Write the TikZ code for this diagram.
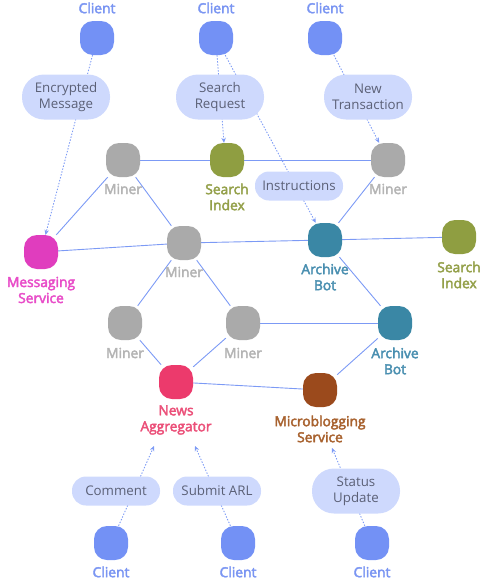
\documentclass[tikz,border=0pt]{standalone}
\usepackage{fontspec}
\setmainfont{Open Sans}
\newfontfamily\labfont{Open Sans}[FakeBold=3]
\usetikzlibrary{arrows.meta}
\definecolor{clientc}{HTML}{7391F5}
\definecolor{clientt}{HTML}{7A95F2}
\definecolor{pillc}{HTML}{CED9FD}
\definecolor{pillt}{HTML}{5B6076}
\definecolor{minerc}{HTML}{AAAAAA}
\definecolor{minert}{HTML}{B4B4B4}
\definecolor{sic}{HTML}{8F9E41}
\definecolor{sit}{HTML}{94A04A}
\definecolor{msgc}{HTML}{E03DBE}
\definecolor{msgt}{HTML}{E84DC8}
\definecolor{abc}{HTML}{3A87A5}
\definecolor{abt}{HTML}{4A8FB0}
\definecolor{newsc}{HTML}{EC3A6C}
\definecolor{newst}{HTML}{EB5079}
\definecolor{mbc}{HTML}{9B4A1C}
\definecolor{mbt}{HTML}{A8622F}
\definecolor{edgec}{HTML}{7C9AF5}
\pgfdeclarelayer{bg}
\pgfsetlayers{bg,main}
\tikzset{
  blob/.style={rectangle, rounded corners=13pt, minimum size=34pt, inner sep=0pt, draw=none},
  lab/.style={font=\labfont\fontsize{13.8}{16}\selectfont, align=center, inner sep=0pt},
  pill/.style={rectangle, fill=pillc, minimum width=88pt, inner sep=0pt, align=center,
    text=pillt, font=\fontsize{13.3}{16}\selectfont},
  pilltall/.style={pill, minimum height=45pt, rounded corners=22pt},
  pillshort/.style={pill, minimum height=29pt, rounded corners=14pt},
  link/.style={draw=edgec, line width=0.9pt},
  flow/.style={draw=edgec, line width=0.9pt, dash pattern=on 1.4pt off 1.6pt,
    -{Stealth[length=5pt,width=4.5pt]}},
}
\begin{document}
\begin{tikzpicture}[x=1pt,y=-1pt]
\useasboundingbox (0,0) rectangle (485,579);
% clients top
\node[blob, fill=clientc] (c1) at (97,38) {};
\node[blob, fill=clientc] (c2) at (216,38) {};
\node[blob, fill=clientc] (c3) at (325,38) {};
\node[lab, text=clientt] (c1l) at (97,8) {Client};
\node[lab, text=clientt] (c2l) at (216,8) {Client};
\node[lab, text=clientt] (c3l) at (325,8) {Client};
% pills top
\node[pilltall] (p1) at (66,97) {Encrypted\\Message};
\node[pilltall] (p2) at (220,97) {Search\\Request};
\node[pilltall] (p3) at (368,97) {New\\Transaction};
\node[pillshort] (p4) at (299,186) {Instructions};
% network
\node[blob, fill=minerc] (m1) at (123,160) {};
\node[lab, text=minert] (m1l) at (123,189) {Miner};
\node[blob, fill=sic] (si1) at (227,160) {};
\node[lab, text=sit] (si1l) at (227,197) {Search\\Index};
\node[blob, fill=minerc] (m2) at (388,160) {};
\node[lab, text=minert] (m2l) at (388,189) {Miner};
\node[blob, fill=msgc] (msg) at (41,252) {};
\node[lab, text=msgt] (msgl) at (41,290) {Messaging\\Service};
\node[blob, fill=minerc] (m3) at (184,243) {};
\node[lab, text=minert] (m3l) at (184,272) {Miner};
\node[blob, fill=abc] (ab1) at (325,240) {};
\node[lab, text=abt] (ab1l) at (325,277) {Archive\\Bot};
\node[blob, fill=sic] (si2) at (459,237) {};
\node[lab, text=sit] (si2l) at (459,275) {Search\\Index};
\node[blob, fill=minerc] (m4) at (125,323) {};
\node[lab, text=minert] (m4l) at (125,353) {Miner};
\node[blob, fill=minerc] (m5) at (243,323) {};
\node[lab, text=minert] (m5l) at (243,353) {Miner};
\node[blob, fill=abc] (ab2) at (395,323) {};
\node[lab, text=abt] (ab2l) at (395,361) {Archive\\Bot};
\node[blob, fill=newsc] (news) at (176,382) {};
\node[lab, text=newst] (newsl) at (176,420) {News\\Aggregator};
\node[blob, fill=mbc] (mb) at (320,390) {};
\node[lab, text=mbt] (mbl) at (320,429) {Microblogging\\Service};
% pills bottom
\node[pillshort] (p5) at (116,491) {Comment};
\node[pillshort] (p6) at (217,491) {Submit ARL};
\node[pilltall] (p7) at (356,491) {Status\\Update};
% clients bottom
\node[blob, fill=clientc] (c4) at (111,543) {};
\node[blob, fill=clientc] (c5) at (238,543) {};
\node[blob, fill=clientc] (c6) at (372,543) {};
\node[lab, text=clientt] (c4l) at (111,572) {Client};
\node[lab, text=clientt] (c5l) at (238,572) {Client};
\node[lab, text=clientt] (c6l) at (372,572) {Client};
\coordinate (t1) at (154,446);
\coordinate (t2) at (195,446);
\coordinate (t3) at (332,448);
\begin{pgfonlayer}{bg}
\draw[link] (m1) -- (si1);
\draw[link] (si1) -- (m2);
\draw[link] (m1) -- (msg);
\draw[link] (m1) -- (m3);
\draw[link] (m2) -- (ab1);
\draw[link] (msg) -- (m3);
\draw[link] (m3) -- (ab1);
\draw[link] (ab1) -- (si2);
\draw[link] (ab1) -- (ab2);
\draw[link] (m3) -- (m4);
\draw[link] (m3) -- (m5);
\draw[link] (m5) -- (ab2);
\draw[link] (m4) -- (news);
\draw[link] (m5) -- (news);
\draw[link] (news) -- (mb);
\draw[link] (ab2) -- (mb);
\draw[flow] (c1) -- (msg);
\draw[flow] ([xshift=1pt]c2.south) -- ([xshift=-3pt]si1.north);
\draw[flow] (c2) -- (ab1);
\draw[flow] (c3) -- (m2);
\draw[flow] (c4) -- (t1);
\draw[flow] (c5) -- (t2);
\draw[flow] (c6) -- (t3);
\end{pgfonlayer}
\end{tikzpicture}
\end{document}
